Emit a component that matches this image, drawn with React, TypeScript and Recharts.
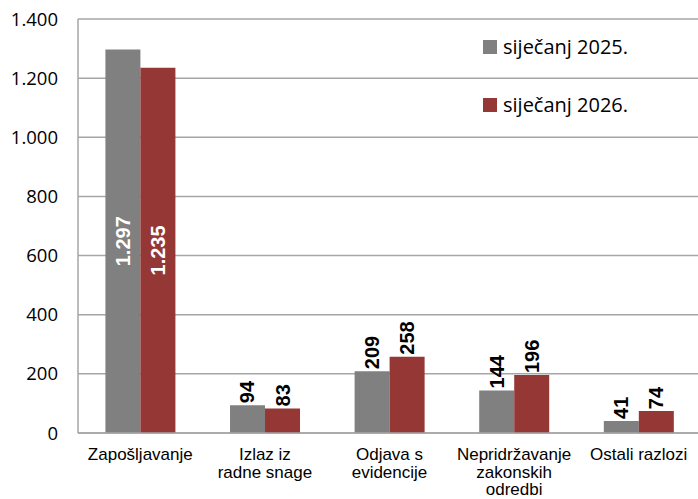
import { Bar, BarChart, CartesianGrid, XAxis, YAxis } from "recharts";

const categories = ["Zapošljavanje", "Izlaz iz\nradne snage", "Odjava s\nevidencije", "Nepridržavanje\nzakonskih\nodredbi", "Ostali razlozi"];
const values2025 = [1297, 94, 209, 144, 41];
const values2026 = [1235, 83, 258, 196, 74];
const yTicks = [0, 200, 400, 600, 800, 1000, 1200, 1400];
const seriesNames = ["siječanj 2025.", "siječanj 2026."];
const colors = ["#808080", "#953735"];

const data = categories.map((name, i) => ({
  name,
  a: values2025[i],
  b: values2026[i],
}));

// 1297 -> "1.297"
const fmt = (v: number) => String(v).replace(/\B(?=(\d{3})+(?!\d))/g, ".");

function ValueLabel(props: any) {
  const { x, y, width, height, value } = props;
  const cx = x + width / 2;
  if (value > 1000) {
    const cy = y + height / 2;
    return (
      <text x={cx} y={cy} transform={`rotate(-90 ${cx} ${cy})`} textAnchor="middle" dominantBaseline="central"
        fill="#fff" fontFamily="Liberation Sans" fontWeight="bold" fontSize={20}>
        {fmt(value)}
      </text>
    );
  }
  const ty = y - 2;
  return (
    <text x={cx} y={ty} transform={`rotate(-90 ${cx} ${ty})`} textAnchor="start" dominantBaseline="central"
      fill="#000" fontFamily="Liberation Sans" fontWeight="bold" fontSize={20}>
      {fmt(value)}
    </text>
  );
}

function CategoryTick({ x, y, payload }: any) {
  const lines = String(payload.value).split("\n");
  return (
    <text x={x} y={y} textAnchor="middle" fill="#000" fontFamily="Liberation Sans" fontSize={17}>
      {lines.map((l, i) => (
        <tspan key={i} x={x} dy={i === 0 ? 25 : 17.5}>{l}</tspan>
      ))}
    </text>
  );
}

function LegendBox() {
  return (
    <div style={{ position: "absolute", left: 483, top: 33, fontFamily: "Open Sans", fontSize: 20, color: "#000" }}>
      {seriesNames.map((n, i) => (
        <div key={n} style={{ position: "absolute", left: 0, top: i * 58, display: "flex", alignItems: "center", whiteSpace: "nowrap" }}>
          <span style={{ width: 14, height: 14, background: colors[i], marginRight: 6, display: "inline-block" }} />
          <span>{n}</span>
        </div>
      ))}
    </div>
  );
}

export default function App() {
  return (
    <div style={{ position: "fixed", left: 0, top: 0, width: 698, height: 499, overflow: "hidden", background: "#fff" }}>
      <BarChart width={706} height={499} data={data} margin={{ top: 19, right: 5, left: 0, bottom: 0 }}
        barCategoryGap="22%" barGap={0}>
        <CartesianGrid vertical={false} stroke="#a6a6a6" strokeWidth={1.5} />
        <XAxis dataKey="name" height={66} interval={0} tick={<CategoryTick />} tickLine={false} tickSize={0}
          axisLine={{ stroke: "#a6a6a6", strokeWidth: 1.5 }} />
        <YAxis width={78} domain={[0, 1400]} ticks={yTicks} tickFormatter={fmt} tickLine={false} tickSize={0} tickMargin={20}
          axisLine={{ stroke: "#a6a6a6", strokeWidth: 1.5 }}
          tick={{ fill: "#000", fontFamily: "Open Sans", fontSize: 18.5 }} />
        <Bar dataKey="a" name={seriesNames[0]} fill={colors[0]} isAnimationActive={false} label={<ValueLabel />} />
        <Bar dataKey="b" name={seriesNames[1]} fill={colors[1]} isAnimationActive={false} label={<ValueLabel />} />
      </BarChart>
      <LegendBox />
    </div>
  );
}
